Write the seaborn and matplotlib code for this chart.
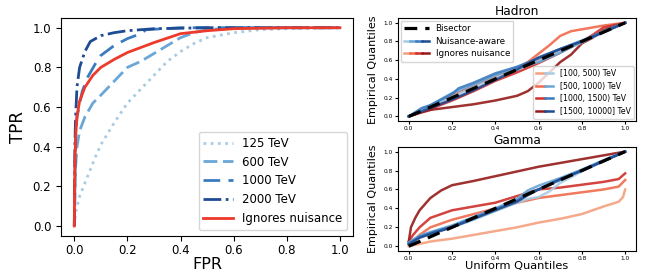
import numpy as np
import pandas as pd
import matplotlib
matplotlib.use("Agg")
import matplotlib.pyplot as plt
import seaborn as sns
from matplotlib.lines import Line2D
from matplotlib.legend_handler import HandlerTuple

# ROC curves (left panel)
roc_labels = ["125 TeV", "600 TeV", "1000 TeV", "2000 TeV"]
fpr_125 = [0, 0.005, 0.02, 0.05, 0.08, 0.1, 0.15, 0.2, 0.25, 0.3, 0.35, 0.4, 0.45, 0.5, 0.6, 0.7, 0.8, 1.0]
tpr_125 = [0, 0.07, 0.15, 0.25, 0.35, 0.41, 0.52, 0.62, 0.69, 0.76, 0.83, 0.88, 0.92, 0.95, 0.975, 0.99, 0.995, 1.0]
fpr_600 = [0, 0.005, 0.01, 0.02, 0.04, 0.07, 0.1, 0.15, 0.2, 0.25, 0.3, 0.35, 0.4, 0.45, 0.5, 0.6, 1.0]
tpr_600 = [0, 0.3, 0.4, 0.48, 0.55, 0.62, 0.66, 0.73, 0.80, 0.83, 0.87, 0.91, 0.95, 0.975, 0.99, 1.0, 1.0]
fpr_1000 = [0, 0.005, 0.01, 0.03, 0.05, 0.08, 0.1, 0.15, 0.2, 0.25, 0.27, 0.4, 1.0]
tpr_1000 = [0, 0.45, 0.55, 0.68, 0.75, 0.82, 0.86, 0.91, 0.945, 0.97, 0.99, 1.0, 1.0]
fpr_2000 = [0, 0.002, 0.005, 0.01, 0.02, 0.04, 0.06, 0.1, 0.15, 0.2, 0.3, 0.5, 1.0]
tpr_2000 = [0, 0.4, 0.55, 0.7, 0.8, 0.88, 0.93, 0.96, 0.975, 0.985, 0.995, 1.0, 1.0]
fpr_ign = [0, 0.002, 0.005, 0.01, 0.02, 0.04, 0.07, 0.1, 0.15, 0.2, 0.3, 0.4, 0.5, 0.6, 0.8, 1.0]
tpr_ign = [0, 0.3, 0.45, 0.55, 0.63, 0.70, 0.76, 0.80, 0.84, 0.875, 0.925, 0.97, 0.985, 0.995, 1.0, 1.0]

# QQ curves (right panels)
energy_bins = ["[100, 500) TeV", "[500, 1000) TeV", "[1000, 1500) TeV", "[1500, 10000] TeV"]
reds = ["#f4a07f", "#ef6a4c", "#d0302a", "#961a1a"]
blues = ["#a9cce4", "#6aa6d6", "#3b7bbf", "#1f4b92"]

had_ign_x = [
    [0, 0.1, 0.2, 0.3, 0.4, 0.5, 0.6, 0.7, 0.8, 0.9, 1.0],
    [0, 0.1, 0.2, 0.3, 0.4, 0.5, 0.55, 0.6, 0.65, 0.7, 0.75, 0.8, 0.9, 1.0],
    [0, 0.1, 0.2, 0.3, 0.4, 0.5, 0.6, 0.7, 0.8, 0.85, 0.9, 1.0],
    [0, 0.05, 0.1, 0.2, 0.3, 0.4, 0.5, 0.55, 0.6, 0.65, 0.7, 0.75, 0.8, 0.85, 0.9, 1.0],
]
had_ign_y = [
    [0, 0.1, 0.22, 0.33, 0.42, 0.52, 0.6, 0.71, 0.8, 0.9, 1.0],
    [0, 0.07, 0.22, 0.33, 0.43, 0.52, 0.58, 0.67, 0.76, 0.86, 0.91, 0.93, 0.97, 1.0],
    [0, 0.08, 0.17, 0.27, 0.38, 0.47, 0.57, 0.68, 0.8, 0.87, 0.95, 1.0],
    [0, 0.04, 0.07, 0.1, 0.13, 0.17, 0.22, 0.27, 0.36, 0.47, 0.58, 0.66, 0.78, 0.84, 0.92, 1.0],
]
had_aw_x = [
    [0, 0.1, 0.2, 0.3, 0.4, 0.5, 0.6, 0.7, 0.8, 0.9, 1.0],
    [0, 0.07, 0.2, 0.3, 0.4, 0.5, 0.6, 0.7, 0.8, 0.9, 1.0],
    [0, 0.06, 0.1, 0.2, 0.23, 0.3, 0.4, 0.5, 0.6, 0.7, 0.8, 0.9, 1.0],
    [0, 0.1, 0.2, 0.3, 0.4, 0.5, 0.6, 0.7, 0.8, 0.9, 1.0],
]
had_aw_y = [
    [0, 0.11, 0.21, 0.31, 0.41, 0.5, 0.59, 0.69, 0.79, 0.9, 1.0],
    [0, 0.08, 0.25, 0.34, 0.44, 0.52, 0.58, 0.68, 0.8, 0.91, 1.0],
    [0, 0.09, 0.12, 0.24, 0.3, 0.36, 0.46, 0.53, 0.62, 0.72, 0.81, 0.9, 1.0],
    [0, 0.09, 0.18, 0.28, 0.39, 0.5, 0.63, 0.72, 0.8, 0.9, 1.0],
]

gam_ign_x = [
    [0, 0.1, 0.2, 0.3, 0.4, 0.5, 0.6, 0.7, 0.8, 0.9, 0.97, 0.99, 1.0],
    [0, 0.05, 0.1, 0.2, 0.3, 0.4, 0.5, 0.6, 0.7, 0.8, 0.9, 0.97, 1.0],
    [0, 0.02, 0.05, 0.1, 0.2, 0.3, 0.4, 0.5, 0.6, 0.7, 0.8, 0.9, 0.97, 1.0],
    [0, 0.01, 0.03, 0.05, 0.1, 0.15, 0.2, 0.3, 0.4, 0.5, 0.6, 0.7, 0.8, 0.9, 1.0],
]
gam_ign_y = [
    [0, 0.05, 0.08, 0.12, 0.16, 0.2, 0.25, 0.29, 0.34, 0.42, 0.47, 0.52, 0.6],
    [0.02, 0.12, 0.2, 0.28, 0.34, 0.4, 0.46, 0.51, 0.54, 0.57, 0.6, 0.63, 0.7],
    [0.05, 0.12, 0.2, 0.3, 0.38, 0.42, 0.46, 0.53, 0.6, 0.62, 0.65, 0.68, 0.71, 0.77],
    [0.05, 0.2, 0.3, 0.38, 0.51, 0.59, 0.645, 0.69, 0.74, 0.79, 0.84, 0.88, 0.92, 0.96, 1.0],
]
gam_aw_x = [
    [0, 0.05, 0.1, 0.2, 0.3, 0.4, 0.5, 0.55, 0.6, 0.65, 0.7, 0.8, 0.9, 1.0],
    [0, 0.05, 0.1, 0.2, 0.3, 0.4, 0.5, 0.55, 0.6, 0.7, 0.8, 0.9, 1.0],
    [0, 0.05, 0.1, 0.2, 0.3, 0.4, 0.5, 0.55, 0.6, 0.7, 0.8, 0.9, 1.0],
    [0, 0.05, 0.1, 0.2, 0.3, 0.4, 0.5, 0.55, 0.6, 0.7, 0.8, 0.9, 1.0],
]
gam_aw_y = [
    [0.03, 0.09, 0.13, 0.2, 0.28, 0.37, 0.46, 0.5, 0.52, 0.58, 0.67, 0.79, 0.9, 1.0],
    [0.04, 0.11, 0.15, 0.22, 0.31, 0.4, 0.5, 0.59, 0.64, 0.72, 0.81, 0.91, 1.0],
    [0.03, 0.1, 0.14, 0.21, 0.3, 0.39, 0.48, 0.56, 0.6, 0.7, 0.8, 0.9, 1.0],
    [0.02, 0.09, 0.13, 0.2, 0.29, 0.38, 0.47, 0.54, 0.6, 0.71, 0.8, 0.9, 1.0],
]


def curve_df(x, y):
    return pd.DataFrame({"x": x, "y": y})


fig = plt.figure(figsize=(6.45, 2.74), dpi=100)
ax_roc = fig.add_axes([0.0946, 0.139, 0.453, 0.796])
ax_had = fig.add_axes([0.617, 0.558, 0.369, 0.376])
ax_gam = fig.add_axes([0.617, 0.084, 0.369, 0.38])

# --- left: ROC ---
roc_styles = [(blues[0], (0, (1, 1.6))), (blues[1], (0, (5, 2))), (blues[2], (0, (6, 3))), (blues[3], "-.")]
roc_data = [(fpr_125, tpr_125), (fpr_600, tpr_600), (fpr_1000, tpr_1000), (fpr_2000, tpr_2000)]
for (fx, ty), lab, (c, ls) in zip(roc_data, roc_labels, roc_styles):
    sns.lineplot(data=curve_df(fx, ty), x="x", y="y", sort=False, estimator=None,
                 ax=ax_roc, color=c, linestyle=ls, lw=2, label=lab)
sns.lineplot(data=curve_df(fpr_ign, tpr_ign), x="x", y="y", sort=False, estimator=None,
             ax=ax_roc, color="#ee3a2b", lw=2, label="Ignores nuisance")
ax_roc.set_xlabel("FPR", fontsize=11.5, labelpad=0)
ax_roc.set_ylabel("TPR", fontsize=12)
ax_roc.set_xticks([0, 0.2, 0.4, 0.6, 0.8, 1.0])
ax_roc.set_yticks([0, 0.2, 0.4, 0.6, 0.8, 1.0])
ax_roc.tick_params(labelsize=8.5)
ax_roc.tick_params(axis="x", pad=2)
ax_roc.set_xlim(-0.05, 1.05)
ax_roc.set_ylim(-0.05, 1.05)
ax_roc.legend(loc="lower right", fontsize=8.5, handlelength=2.5)


def qq_panel(ax, ign_x, ign_y, aw_x, aw_y, title):
    for i in range(4):
        sns.lineplot(data=curve_df(ign_x[i], ign_y[i]), x="x", y="y", sort=False,
                     estimator=None, ax=ax, color=reds[i], lw=1.8, alpha=0.9)
    for i in range(4):
        sns.lineplot(data=curve_df(aw_x[i], aw_y[i]), x="x", y="y", sort=False,
                     estimator=None, ax=ax, color=blues[i], lw=1.8, alpha=0.9)
    sns.lineplot(data=curve_df([0, 1], [0, 1]), x="x", y="y", ax=ax, color="black",
                 lw=2.3, linestyle=(0, (4, 2.5)), zorder=10)
    ax.set_title(title, fontsize=8.7, pad=2)
    ax.set_ylabel("Empirical Quantiles", fontsize=8)
    ax.set_xlabel("")
    ax.set_xticks([0, 0.2, 0.4, 0.6, 0.8, 1.0])
    ax.set_yticks([0, 0.2, 0.4, 0.6, 0.8, 1.0])
    ax.tick_params(labelsize=4.2, length=2, pad=1.5)
    ax.set_xlim(-0.05, 1.05)
    ax.set_ylim(-0.05, 1.05)


qq_panel(ax_had, had_ign_x, had_ign_y, had_aw_x, had_aw_y, "Hadron")
qq_panel(ax_gam, gam_ign_x, gam_ign_y, gam_aw_x, gam_aw_y, "Gamma")
ax_gam.set_xlabel("Uniform Quantiles", fontsize=8.2, labelpad=0)

# legends for the Hadron panel
bis = Line2D([], [], color="black", lw=2.3, linestyle=(0, (4, 2.5)))
aware = tuple(Line2D([], [], color=c, lw=1.8) for c in blues)
ignore = tuple(Line2D([], [], color=c, lw=1.8) for c in reds)
leg1 = ax_had.legend([bis, aware, ignore], ["Bisector", "Nuisance-aware", "Ignores nuisance"],
                     handler_map={tuple: HandlerTuple(ndivide=None, pad=0)},
                     loc="upper left", fontsize=6.3, handlelength=2.8, borderaxespad=0.3,
                     labelspacing=0.4)
ax_had.add_artist(leg1)
pairs = [(Line2D([], [], color=r, lw=1.8), Line2D([], [], color=b, lw=1.8)) for r, b in zip(reds, blues)]
ax_had.legend(pairs, energy_bins, handler_map={tuple: HandlerTuple(ndivide=None, pad=0)},
              loc="lower right", fontsize=5.6, handlelength=2.2, borderaxespad=0.3,
              labelspacing=0.45)

fig.savefig("out.png", dpi=100)
